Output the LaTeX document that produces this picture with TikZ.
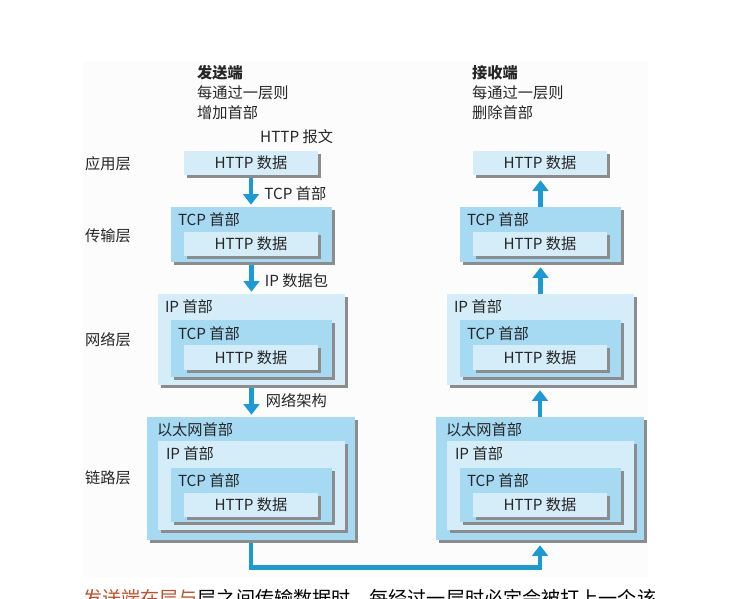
\documentclass[tikz,border=0pt]{standalone}
\usepackage{fontspec}
\setmainfont{Noto Sans CJK SC}
\usetikzlibrary{arrows.meta,shadows,fit}

\definecolor{azulclaro}{HTML}{D4EDF8}
\definecolor{azulmedio}{HTML}{A6D9F2}
\definecolor{flecha}{HTML}{1B9AD6}
\definecolor{texto}{HTML}{262626}
\definecolor{sombra}{HTML}{8C8C8C}
\definecolor{rojo}{HTML}{C4502A}

\tikzset{
  caja/.style={inner sep=0pt, drop shadow={shadow xshift=0.09cm, shadow yshift=-0.09cm, fill=sombra, opacity=1}},
  claro/.style={caja, fill=azulclaro},
  medio/.style={caja, fill=azulmedio},
  etiq/.style={anchor=west, inner sep=0pt, text=texto, font=\fontsize{13}{15}\selectfont},
  flujo/.style={draw=flecha, line width=4pt, -{Triangle[width=0.47cm,length=0.32cm]}},
}

\begin{document}
\begin{tikzpicture}[x=0.03cm, y=-0.03cm]
    \clip (0,0) rectangle (730,599);  % ventana de la figura
    \fill[white] (0,0) rectangle (730,599);
    \fill[black!1] (83,62) rectangle (648,577);

    % titulos
    \node[etiq] (tEnv) at (197,73) {\bfseries 发送端};
    \node[etiq] (tEnv2) at (197,93) {每通过一层则};
    \node[etiq] (tEnv3) at (197,113) {增加首部};
    \node[etiq] (tRec) at (472,73) {\bfseries 接收端};
    \node[etiq] (tRec2) at (472,93) {每通过一层则};
    \node[etiq] (tRec3) at (472,113) {删除首部};
    \node[etiq] (tMsg) at (260,137) {HTTP 报文};

    % capas
    \node[etiq] (cApp) at (85,164) {应用层};
    \node[etiq] (cTcp) at (85,236) {传输层};
    \node[etiq] (cIp) at (85,340) {网络层};
    \node[etiq] (cEth) at (85,478) {链路层};

    \foreach \lado/\dx in {L/0,R/289}{
        % aplicacion
        \node[claro, fit={(184+\dx,151) (318+\dx,175)}] (app\lado) {};
        \node[etiq, anchor=center] (hApp\lado) at (app\lado) {HTTP 数据};

        % transporte
        \node[medio, fit={(171+\dx,207) (332+\dx,262)}] (tcp\lado) {};
        \node[etiq] (hTcp\lado) at ([shift={(7,13)}]tcp\lado.north west) {TCP 首部};
        \node[claro, fit={(184+\dx,232) (318+\dx,256)}] (tcpH\lado) {};
        \node[etiq, anchor=center] (hTcpH\lado) at (tcpH\lado) {HTTP 数据};

        % red
        \node[claro, fit={(158+\dx,294) (345+\dx,385)}] (ip\lado) {};
        \node[etiq] (hIp\lado) at ([shift={(7,13)}]ip\lado.north west) {IP 首部};
        \node[medio, fit={(171+\dx,320) (332+\dx,377)}] (ipT\lado) {};
        \node[etiq] (hIpT\lado) at ([shift={(7,14)}]ipT\lado.north west) {TCP 首部};
        \node[claro, fit={(184+\dx,345) (318+\dx,370)}] (ipH\lado) {};
        \node[etiq, anchor=center] (hIpH\lado) at (ipH\lado) {HTTP 数据};

        % enlace
        \node[medio, fit={(147+\dx,417) (355+\dx,540)}] (eth\lado) {};
        \node[etiq] (hEth\lado) at ([shift={(10,13)}]eth\lado.north west) {以太网首部};
        \node[claro, fit={(158+\dx,441) (345+\dx,530)}] (ethI\lado) {};
        \node[etiq] (hEthI\lado) at ([shift={(8,13)}]ethI\lado.north west) {IP 首部};
        \node[medio, fit={(171+\dx,468) (332+\dx,522)}] (ethT\lado) {};
        \node[etiq] (hEthT\lado) at ([shift={(7,13)}]ethT\lado.north west) {TCP 首部};
        \node[claro, fit={(184+\dx,493) (318+\dx,517)}] (ethH\lado) {};
        \node[etiq, anchor=center] (hEthH\lado) at (ethH\lado) {HTTP 数据};
    }

    % bajando por el emisor
    \draw[flujo, shorten <=0.09cm, shorten >=0.06cm] (appL.south) -- (appL.south |- tcpL.north)
        node[etiq, midway, xshift=0.33cm, yshift=-0.09cm] (lTcp) {TCP 首部};
    \draw[flujo, shorten <=0.09cm, shorten >=0.06cm] (tcpL.south) -- (tcpL.south |- ipL.north)
        node[etiq, midway, xshift=0.33cm, yshift=-0.09cm] (lIp) {IP 数据包};
    \draw[flujo, shorten <=0.09cm, shorten >=0.06cm] (ipL.south) -- (ipL.south |- ethL.north)
        node[etiq, midway, xshift=0.36cm] (lEth) {网络架构};

    % subiendo por el receptor
    \draw[flujo, shorten >=0.15cm] (tcpR.north) -- (tcpR.north |- appR.south);
    \draw[flujo, shorten >=0.15cm] (ipR.north) -- (ipR.north |- tcpR.south);
    \draw[flujo, shorten >=0.15cm] (ethR.north) -- (ethR.north |- ipR.south);

    % enlace fisico
    \draw[flujo, shorten <=0.09cm, shorten >=0.15cm] (ethL.south) -- ++(0,27) -| (ethR.south);

    % texto cortado abajo
    \node[anchor=north west, inner sep=0pt, font=\fontsize{16.3}{19}\selectfont] (nota) at (83,589)
        {\textcolor{rojo}{发送端在层与}层之间传输数据时，每经过一层时必定会被打上一个该};
\end{tikzpicture}
\end{document}
